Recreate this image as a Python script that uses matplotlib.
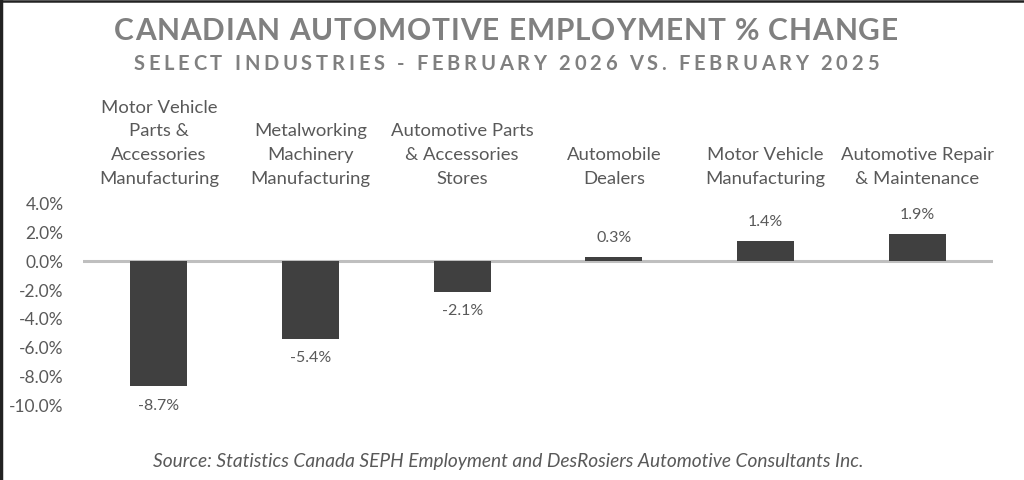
import matplotlib
matplotlib.use("Agg")
import matplotlib.pyplot as plt
from matplotlib.lines import Line2D
import matplotlib.transforms as mtransforms
from matplotlib.textpath import TextPath
from matplotlib.font_manager import FontProperties

categories = [
    "Motor Vehicle\nParts &\nAccessories\nManufacturing",
    "Metalworking\nMachinery\nManufacturing",
    "Automotive Parts\n& Accessories\nStores",
    "Automobile\nDealers",
    "Motor Vehicle\nManufacturing",
    "Automotive Repair\n& Maintenance",
]
values = [-8.7, -5.4, -2.1, 0.3, 1.4, 1.9]
yticks = [4, 2, 0, -2, -4, -6, -8, -10]

title = "CANADIAN AUTOMOTIVE EMPLOYMENT % CHANGE"
subtitle = "SELECT INDUSTRIES - FEBRUARY 2026 VS. FEBRUARY 2025"
source = "Source: Statistics Canada SEPH Employment and DesRosiers Automotive Consultants Inc."

FONT = "Lato"
TXT = "#595959"
BAR = "#404040"

fig = plt.figure(figsize=(10.24, 4.8), dpi=100)
fig.patch.set_facecolor("white")
W, H = 1024, 480
left, right, top, bottom = 83, 993, 204, 405
ax = fig.add_axes([left / W, (H - bottom) / H, (right - left) / W, (bottom - top) / H])

x = list(range(len(values)))
ax.bar(x, values, width=0.375, color=BAR, zorder=2)
ax.set_xlim(-0.5, len(values) - 0.5)
ax.set_ylim(-10, 4)
ax.axhline(0, color="#bfbfbf", lw=2.2, zorder=1)

for s in ax.spines.values():
    s.set_visible(False)
ax.set_xticks([])
ax.set_yticks(yticks)
ax.set_yticklabels([f"{v:.1f}%" for v in yticks], fontsize=12.5, color=TXT, family=FONT)
ax.tick_params(axis="y", length=0, pad=14)

trans = mtransforms.blended_transform_factory(ax.transData, ax.transAxes)
for xi, lab in zip(x, categories):
    ax.text(xi, 1.085, lab, transform=trans, ha="center", va="bottom",
            multialignment="center", fontsize=13.3, color=TXT, family=FONT,
            linespacing=1.6)

for xi, v in zip(x, values):
    if v < 0:
        ax.annotate(f"{v:.1f}%", (xi, v), xytext=(0, -9), textcoords="offset points",
                    ha="center", va="top", fontsize=11.5, color=TXT, family=FONT,
                    annotation_clip=False)
    else:
        ax.annotate(f"{v:.1f}%", (xi, v), xytext=(0, 9), textcoords="offset points",
                    ha="center", va="bottom", fontsize=11.5, color=TXT, family=FONT,
                    annotation_clip=False)


def spaced_text(s, cx_px, cy_px, size, spacing_px, **kw):
    """Draw text centred at (cx_px, cy_px) with extra letter spacing."""
    fp = FontProperties(family=FONT, weight="bold", size=size)
    scale = 100 / 72.0
    w_bar = TextPath((0, 0), "|", prop=fp).get_extents().x1
    prefix = [0.0]
    for i in range(1, len(s) + 1):
        w1 = TextPath((0, 0), s[:i] + "|", prop=fp).get_extents().x1
        prefix.append((w1 - w_bar) * scale)
    total = prefix[-1] + spacing_px * (len(s) - 1)
    x0 = cx_px - total / 2
    for i, ch in enumerate(s):
        if ch == " ":
            continue
        xp = x0 + prefix[i] + spacing_px * i
        fig.text(xp / W, 1 - cy_px / H, ch, ha="left", va="center_baseline",
                 fontsize=size, fontweight="bold", family=FONT, **kw)


spaced_text(title, 506, 29, 21.5, 0.9, color="#808080")
spaced_text(subtitle, 506, 62, 14.5, 3.7, color="#808080")

fig.text(508 / W, 1 - 462 / H, source, ha="center", va="center", fontsize=13.8,
         style="italic", color=TXT, family=FONT)

fig.add_artist(Line2D([1 / W, 1 / W], [0, 1], color="#222222", lw=2.5, transform=fig.transFigure))
fig.add_artist(Line2D([0, 1], [1 - 0.8 / H, 1 - 0.8 / H], color="#222222", lw=1.8, transform=fig.transFigure))

fig.savefig("out.png", dpi=100, facecolor="white")
